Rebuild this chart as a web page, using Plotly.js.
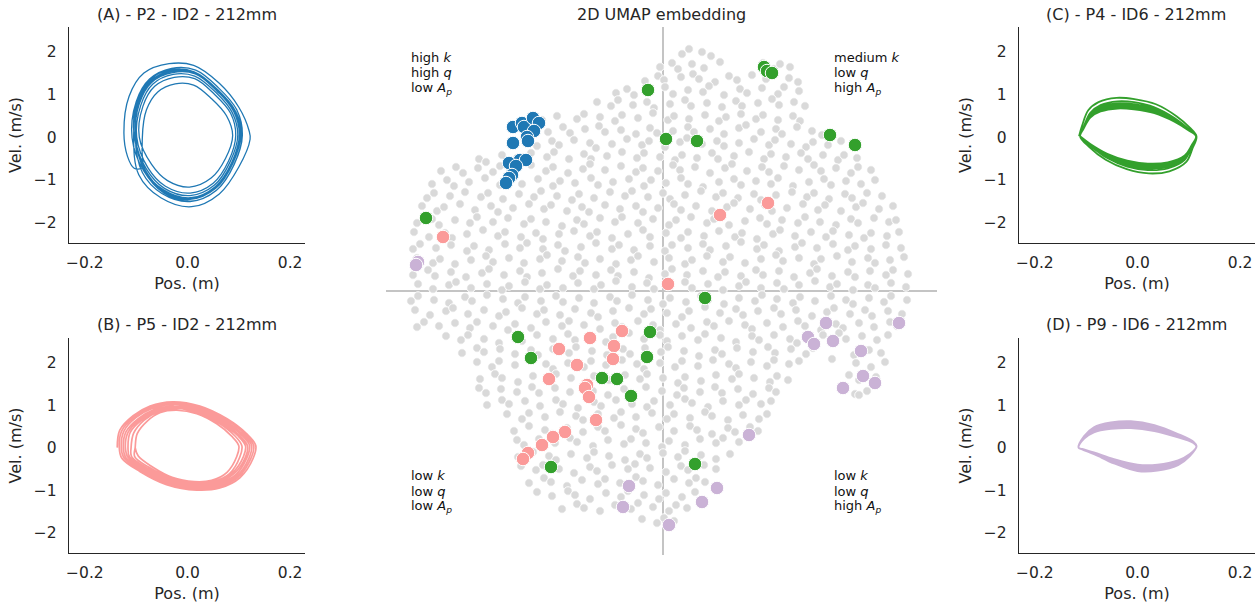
<!DOCTYPE html>
<html><head><meta charset="utf-8">
<script src="https://cdn.plot.ly/plotly-3.0.1.min.js"></script>
<style>html,body{margin:0;padding:0;background:#fff}#chart{width:1258px;height:609px}</style>
</head><body><div id="chart"></div>
<script>
// ---------------- DATA ----------------
const panelTitles = ['(A) - P2 - ID2 - 212mm', '(B) - P5 - ID2 - 212mm', '(C) - P4 - ID6 - 212mm', '(D) - P9 - ID6 - 212mm'];
const centerTitle = '2D UMAP embedding';
const posTicks = [-0.2, 0, 0.2];
const posTickText = ['\u22120.2', '0.0', '0.2'];
const velTicks = [-2, -1, 0, 1, 2];
const velTickText = ['\u22122', '\u22121', '0', '1', '2'];
const quadrantLabels = [
  ['high <i>k</i>', 'high <i>q</i>', 'low <i>A</i><sub><i>p</i></sub>'],
  ['medium <i>k</i>', 'low <i>q</i>', 'high <i>A</i><sub><i>p</i></sub>'],
  ['low <i>k</i>', 'low <i>q</i>', 'low <i>A</i><sub><i>p</i></sub>'],
  ['low <i>k</i>', 'low <i>q</i>', 'high <i>A</i><sub><i>p</i></sub>']
];

// (A) phase portrait trajectory, position (m) and velocity (m/s)
const posA = [-0.089,-0.104,-0.117,
 -0.124,-0.114,-0.085,-0.036,0.012,0.062,0.100,0.120,0.122,0.100,0.062,0.008,-0.052,-0.095,
 -0.105,-0.097,-0.072,-0.030,0.015,0.058,0.093,0.104,0.088,0.055,0.005,-0.048,-0.085,
 -0.108,-0.100,-0.074,-0.031,0.016,0.060,0.096,0.107,0.091,0.057,0.005,-0.050,-0.088,
 -0.102,-0.094,-0.070,-0.029,0.015,0.057,0.090,0.101,0.086,0.054,0.006,-0.046,-0.083,
 -0.088,-0.080,-0.058,-0.024,0.012,0.047,0.076,0.088,0.074,0.046,0.004,-0.039,-0.070,
 -0.094,-0.087,-0.064,-0.026,0.014,0.052,0.084,0.094,0.080,0.050,0.005,-0.043,-0.077,
 -0.099,-0.091,-0.068,-0.028,0.014,0.055,0.087,0.098,0.083,0.052,0.005,-0.045,-0.080,
 -0.104,-0.098,-0.073,-0.032,0.013,0.057,0.094,0.106,0.090,0.056,0.006,-0.047,-0.084,
 -0.101,-0.095,-0.071,-0.030,0.014,0.058,0.091,0.102,0.087,0.053,0.005,-0.047,-0.082,-0.103];
const velA = [-0.74,-0.73,-0.45,
 0.10,0.95,1.50,1.72,1.68,1.26,0.70,0.15,-0.05,-0.70,-1.33,-1.63,-1.42,-0.88,
 0.00,0.80,1.32,1.56,1.52,1.12,0.62,0.05,-0.62,-1.20,-1.46,-1.28,-0.80,
 -0.02,0.83,1.36,1.61,1.57,1.16,0.64,0.05,-0.64,-1.24,-1.51,-1.32,-0.83,
 0.02,0.78,1.28,1.51,1.48,1.09,0.60,0.06,-0.60,-1.16,-1.42,-1.24,-0.77,
 0.00,0.64,1.06,1.25,1.22,0.90,0.50,0.04,-0.50,-0.96,-1.17,-1.02,-0.64,
 0.00,0.72,1.19,1.40,1.37,1.01,0.56,0.04,-0.56,-1.08,-1.31,-1.15,-0.72,
 0.00,0.75,1.24,1.47,1.43,1.05,0.58,0.05,-0.58,-1.13,-1.37,-1.20,-0.75,
 0.03,0.84,1.35,1.58,1.53,1.10,0.60,0.02,-0.66,-1.25,-1.50,-1.30,-0.79,
 0.01,0.79,1.30,1.54,1.50,1.07,0.61,0.04,-0.61,-1.18,-1.44,-1.26,-0.78,-0.02];

// (B)
const posB = [
 -0.137,-0.132,-0.106,-0.073,-0.029,0.024,0.077,0.115,0.133,0.128,0.102,0.063,0.018,-0.041,-0.093,-0.128,
 -0.133,-0.128,-0.103,-0.071,-0.028,0.023,0.075,0.112,0.129,0.124,0.099,0.061,0.017,-0.040,-0.090,-0.124,
 -0.129,-0.124,-0.100,-0.069,-0.027,0.023,0.072,0.108,0.125,0.120,0.096,0.059,0.017,-0.039,-0.087,-0.120,
 -0.125,-0.120,-0.096,-0.066,-0.026,0.022,0.070,0.105,0.121,0.116,0.093,0.057,0.016,-0.037,-0.085,-0.116,
 -0.121,-0.116,-0.093,-0.064,-0.026,0.021,0.068,0.101,0.117,0.113,0.090,0.055,0.016,-0.036,-0.082,-0.113,
 -0.116,-0.112,-0.090,-0.062,-0.025,0.020,0.065,0.098,0.113,0.109,0.087,0.054,0.015,-0.035,-0.079,-0.109,
 -0.110,-0.105,-0.085,-0.058,-0.023,0.019,0.061,0.092,0.106,0.102,0.082,0.050,0.014,-0.032,-0.074,-0.103,
 -0.102,-0.098,-0.079,-0.054,-0.021,0.018,0.057,0.086,0.100,0.096,0.077,0.047,0.013,-0.030,-0.069,-0.096,-0.102];
const velB = [
 0.00,0.41,0.75,0.98,1.08,0.98,0.68,0.33,0.05,-0.25,-0.71,-0.95,-1.00,-0.87,-0.56,-0.25,
 0.00,0.40,0.73,0.95,1.05,0.95,0.66,0.32,0.05,-0.24,-0.69,-0.92,-0.97,-0.84,-0.54,-0.24,
 0.00,0.39,0.71,0.92,1.02,0.92,0.64,0.31,0.05,-0.24,-0.67,-0.89,-0.94,-0.82,-0.53,-0.24,
 0.00,0.37,0.68,0.89,0.98,0.89,0.62,0.30,0.05,-0.23,-0.65,-0.86,-0.91,-0.79,-0.51,-0.23,
 0.00,0.36,0.66,0.86,0.95,0.86,0.60,0.29,0.04,-0.22,-0.62,-0.84,-0.88,-0.77,-0.49,-0.22,
 0.00,0.35,0.64,0.83,0.92,0.83,0.58,0.28,0.04,-0.21,-0.60,-0.81,-0.85,-0.74,-0.48,-0.21,
 0.00,0.34,0.64,0.84,0.92,0.84,0.58,0.28,0.04,-0.22,-0.61,-0.80,-0.84,-0.73,-0.47,-0.21,
 0.00,0.33,0.62,0.82,0.88,0.80,0.56,0.27,0.04,-0.21,-0.58,-0.77,-0.80,-0.70,-0.45,-0.20,0.00];

// (C)
const posC = [
 -0.114,-0.108,-0.096,-0.076,-0.041,-0.006,0.036,0.076,0.102,0.115,0.107,0.095,0.062,0.022,-0.021,-0.062,-0.095,
 -0.112,-0.105,-0.092,-0.072,-0.039,-0.007,0.033,0.072,0.099,0.114,0.105,0.092,0.059,0.020,-0.020,-0.059,-0.092,
 -0.112,-0.105,-0.092,-0.072,-0.039,-0.007,0.033,0.072,0.099,0.114,0.105,0.092,0.059,0.020,-0.020,-0.059,-0.092,
 -0.112,-0.105,-0.092,-0.072,-0.039,-0.007,0.033,0.072,0.099,0.114,0.105,0.092,0.059,0.020,-0.020,-0.059,-0.092,
 -0.112,-0.105,-0.092,-0.072,-0.039,-0.007,0.033,0.072,0.099,0.114,0.105,0.092,0.059,0.020,-0.020,-0.059,-0.092,
 -0.112,-0.105,-0.092,-0.072,-0.039,-0.007,0.033,0.072,0.099,0.114,0.105,0.092,0.059,0.020,-0.020,-0.059,-0.092,
 -0.112,-0.105,-0.092,-0.072,-0.039,-0.007,0.033,0.072,0.099,0.114,0.105,0.092,0.059,0.020,-0.020,-0.059,-0.092,-0.112];
const velC = [
 0.02,0.27,0.63,0.82,0.92,0.89,0.77,0.49,0.22,0.02,-0.27,-0.58,-0.80,-0.85,-0.75,-0.53,-0.22,
 0.02,0.24,0.57,0.75,0.84,0.82,0.70,0.45,0.20,0.02,-0.24,-0.53,-0.73,-0.77,-0.69,-0.49,-0.20,
 0.02,0.23,0.54,0.71,0.79,0.77,0.66,0.42,0.19,0.02,-0.23,-0.50,-0.69,-0.73,-0.65,-0.46,-0.19,
 0.02,0.22,0.52,0.68,0.76,0.74,0.63,0.40,0.18,0.02,-0.22,-0.48,-0.66,-0.70,-0.62,-0.44,-0.18,
 0.02,0.21,0.50,0.65,0.73,0.71,0.61,0.39,0.17,0.02,-0.21,-0.46,-0.63,-0.67,-0.60,-0.42,-0.17,
 0.02,0.20,0.48,0.63,0.70,0.69,0.59,0.37,0.17,0.02,-0.20,-0.45,-0.61,-0.65,-0.58,-0.41,-0.17,
 0.02,0.20,0.46,0.60,0.67,0.65,0.56,0.36,0.16,0.02,-0.20,-0.43,-0.59,-0.62,-0.55,-0.39,-0.16,0.02];

// (D)
const posD = [
 -0.115,-0.104,-0.085,-0.052,-0.013,0.033,0.079,0.109,0.115,0.102,0.079,0.039,0.000,-0.046,-0.085,-0.108,
 -0.115,-0.104,-0.085,-0.052,-0.013,0.033,0.079,0.109,0.115,0.102,0.079,0.039,0.000,-0.046,-0.085,-0.108,
 -0.115,-0.104,-0.085,-0.052,-0.013,0.033,0.079,0.109,0.115,0.102,0.079,0.039,0.000,-0.046,-0.085,-0.108,
 -0.115,-0.104,-0.085,-0.052,-0.013,0.033,0.079,0.109,0.115,0.102,0.079,0.039,0.000,-0.046,-0.085,-0.108,
 -0.115,-0.104,-0.085,-0.052,-0.013,0.033,0.079,0.109,0.115,0.102,0.079,0.039,0.000,-0.046,-0.085,-0.108,
 -0.115,-0.104,-0.085,-0.052,-0.013,0.033,0.079,0.109,0.115,0.102,0.079,0.039,0.000,-0.046,-0.085,-0.108,-0.115];
const velD = [
 0.00,0.27,0.48,0.59,0.62,0.53,0.32,0.14,0.03,-0.20,-0.41,-0.54,-0.55,-0.37,-0.15,-0.04,
 0.00,0.26,0.46,0.57,0.59,0.50,0.30,0.14,0.03,-0.19,-0.39,-0.51,-0.51,-0.35,-0.15,-0.04,
 0.00,0.25,0.44,0.54,0.56,0.48,0.29,0.13,0.03,-0.18,-0.37,-0.49,-0.49,-0.33,-0.14,-0.04,
 0.00,0.24,0.41,0.51,0.53,0.45,0.27,0.12,0.03,-0.17,-0.35,-0.46,-0.46,-0.31,-0.13,-0.04,
 0.00,0.22,0.39,0.48,0.49,0.42,0.26,0.11,0.03,-0.16,-0.33,-0.43,-0.43,-0.29,-0.12,-0.04,
 0.00,0.21,0.36,0.44,0.46,0.39,0.24,0.11,0.02,-0.15,-0.30,-0.40,-0.40,-0.27,-0.11,-0.03,0.00];

// UMAP embedding: all samples (grey), one line per band of the cloud
const greyU = [
 1.9,2.6,3.9,4.8,
 -0.3,0.9,1.5,2.9,4.1,5.7,10.0,11.1,11.7,12.7,
 -1.8,-0.5,0.1,1.8,3.0,3.6,5.2,6.6,7.4,8.9,10.3,11.0,12.6,13.5,
 -4.7,-3.6,-2.9,-1.3,0.2,1.0,2.5,4.0,4.6,6.1,7.7,8.4,9.9,11.5,12.1,13.6,
 -6.6,-5.2,-4.5,-3.0,-1.6,-0.9,0.7,2.2,2.8,4.4,5.9,7.3,7.9,9.5,10.9,11.6,13.1,14.2,
 -12.1,-10.6,-8.6,-7.9,-6.3,-4.8,-4.1,-2.5,-1.0,0.5,1.1,2.6,4.2,5.6,6.3,7.8,9.3,10.0,11.5,13.0,13.7,
 -11.5,-10.0,-9.3,-7.8,-6.4,-5.8,-4.2,-2.7,-1.3,-0.6,1.0,2.5,3.1,4.7,6.1,7.6,8.3,9.8,11.3,11.9,13.4,14.9,15.9,
 -12.6,-11.1,-10.4,-8.9,-7.3,-6.7,-5.1,-3.6,-2.1,-1.4,0.2,1.7,2.4,3.9,5.4,6.1,7.6,9.1,10.6,11.2,12.8,14.3,15.0,16.5,17.8,
 -18.4,-17.7,-16.1,-14.6,-13.2,-11.6,-10.9,-9.4,-7.9,-7.2,-5.6,-4.1,-2.6,-1.9,-0.3,1.2,1.9,3.4,4.9,5.5,7.1,8.6,10.1,10.8,12.3,13.8,14.5,16.0,17.5,18.1,19.4,
 -22.2,-20.7,-20.0,-18.5,-17.0,-16.3,-14.8,-13.2,-11.7,-11.0,-9.5,-8.0,-7.3,-5.8,-4.2,-2.7,-2.0,-0.5,1.0,1.7,3.2,4.7,6.2,6.9,8.4,9.9,10.6,12.1,13.6,15.1,15.8,17.3,18.8,19.5,20.8,
 -23.1,-21.6,-20.9,-19.4,-17.8,-16.3,-15.6,-14.1,-12.5,-11.0,-10.3,-8.8,-7.2,-6.5,-5.0,-3.4,-1.9,-1.2,0.3,1.8,2.5,4.0,5.6,7.1,7.8,9.3,10.8,11.5,13.0,14.6,16.1,16.8,18.3,19.8,21.2,
 -23.6,-22.9,-21.3,-19.8,-18.2,-17.5,-16.0,-14.4,-12.9,-12.2,-10.6,-9.1,-8.4,-6.9,-5.3,-3.8,-3.1,-1.5,0.0,0.7,2.2,3.8,5.3,6.0,7.5,9.1,9.8,11.3,12.9,14.4,15.1,16.6,18.2,18.9,20.4,21.9,
 -24.1,-22.6,-21.9,-20.3,-18.8,-17.2,-16.5,-15.0,-13.4,-11.9,-11.2,-9.6,-8.1,-7.4,-5.8,-4.3,-2.7,-2.0,-0.5,1.1,1.8,3.3,4.9,6.4,7.1,8.7,10.2,10.9,12.4,14.0,15.5,16.2,17.8,19.3,20.0,21.6,23.0,
 -24.6,-23.1,-22.4,-20.8,-19.3,-18.6,-17.0,-15.5,-13.9,-13.2,-11.7,-10.1,-8.6,-7.9,-6.3,-4.8,-4.1,-2.5,-1.0,0.6,1.3,2.8,4.4,5.1,6.6,8.2,9.7,10.4,11.9,13.5,14.2,15.7,17.3,18.8,19.5,21.1,22.6,23.3,
 -24.9,-23.4,-21.8,-21.1,-19.6,-18.0,-16.5,-15.8,-14.2,-12.7,-12.0,-10.4,-8.9,-7.3,-6.6,-5.1,-3.5,-2.0,-1.3,0.3,1.8,2.5,4.1,5.6,7.2,7.9,9.4,11.0,11.7,13.2,14.8,16.3,17.0,18.6,20.1,20.8,22.4,23.6,
 -25.0,-24.3,-22.7,-21.2,-19.6,-18.9,-17.4,-15.8,-14.3,-13.6,-12.0,-10.5,-9.8,-8.2,-6.7,-5.1,-4.4,-2.9,-1.3,0.2,0.9,2.5,4.0,4.7,6.3,7.8,9.4,10.1,11.6,13.2,13.9,15.4,17.0,18.5,19.2,20.8,22.3,23.8,
 -24.6,-23.0,-22.3,-20.8,-19.2,-17.7,-17.0,-15.4,-13.9,-12.3,-11.6,-10.1,-8.5,-7.8,-6.3,-4.7,-3.2,-2.5,-0.9,0.6,2.2,2.9,4.4,6.0,6.7,8.2,9.8,11.3,12.0,13.6,15.1,15.8,17.4,18.9,20.5,21.2,22.7,24.1,
 -25.0,-23.5,-22.8,-21.2,-19.7,-18.1,-17.4,-15.9,-14.3,-13.6,-12.1,-10.5,-9.0,-8.3,-6.7,-5.2,-4.5,-2.9,-1.4,0.2,0.9,2.4,4.0,5.5,6.2,7.8,9.3,10.0,11.6,13.1,14.7,15.4,16.9,18.5,19.2,20.7,22.3,23.0,24.5,
 -24.5,-23.0,-21.4,-20.7,-19.2,-17.6,-16.1,-15.4,-13.8,-12.3,-11.6,-10.0,-8.5,-6.9,-6.2,-4.7,-3.1,-1.6,-0.9,0.7,2.2,2.9,4.5,6.0,7.6,8.3,9.8,11.4,12.1,13.6,15.2,16.7,17.4,19.0,20.5,21.2,22.8,24.3,
 -25.2,-24.5,-22.9,-21.4,-19.8,-19.1,-17.6,-16.0,-14.5,-13.8,-12.2,-10.7,-10.0,-8.4,-6.9,-5.3,-4.6,-3.1,-1.5,0.0,0.7,2.3,3.8,4.5,6.1,7.6,9.2,9.9,11.4,13.0,13.7,15.2,16.8,18.3,19.0,20.6,22.1,22.8,24.4,
 -24.8,-23.3,-21.7,-21.0,-19.5,-17.9,-16.4,-15.7,-14.1,-12.6,-11.9,-10.3,-8.8,-7.2,-6.5,-5.0,-3.4,-1.9,-1.2,0.4,1.9,2.6,4.2,5.7,7.3,8.0,9.5,11.1,11.8,13.3,14.9,16.4,17.1,18.7,20.2,20.9,22.5,23.9,
 -24.6,-23.9,-22.4,-20.8,-19.3,-18.6,-17.0,-15.5,-14.8,-13.2,-11.7,-10.1,-9.4,-7.9,-6.3,-4.8,-4.1,-2.5,-1.0,-0.3,1.3,2.8,4.4,5.1,6.6,8.2,8.9,10.4,12.0,13.5,14.2,15.8,17.3,18.0,19.6,21.1,22.7,23.4,
 -21.7,-20.2,-19.5,-17.9,-16.4,-14.8,-14.1,-12.6,-11.0,-9.5,-8.8,-7.2,-5.7,-5.0,-3.4,-1.9,-0.3,0.4,1.9,3.5,4.2,5.8,7.3,8.9,9.6,11.1,12.7,13.4,16.0,17.6,18.3,19.9,21.4,22.5,
 -20.1,-18.6,-17.9,-16.3,-14.8,-13.2,-12.5,-11.0,-9.4,-8.7,-7.1,-5.6,-4.0,-3.3,-1.8,-0.2,0.5,2.1,3.6,5.2,5.9,7.4,9.0,10.5,11.2,12.8,14.3,15.0,19.1,20.6,21.8,
 -18.6,-17.1,-16.4,-14.8,-13.3,-11.7,-11.0,-9.5,-7.9,-7.2,-5.7,-4.1,-2.6,-1.9,-0.3,1.2,1.9,3.5,5.0,6.6,7.3,8.8,10.4,11.1,12.6,13.6,16.9,19.3,20.8,22.2,
 -18.3,-16.8,-16.1,-14.5,-13.0,-11.4,-10.7,-9.2,-7.6,-6.9,-5.4,-3.8,-2.3,-1.6,0.0,1.5,2.2,3.8,5.3,6.9,7.6,9.1,10.7,11.4,12.5,18.6,19.6,21.3,
 -18.4,-17.7,-16.2,-14.6,-13.1,-12.4,-10.8,-9.3,-7.7,-7.0,-5.5,-3.9,-3.2,-1.7,-0.1,1.4,2.1,3.7,5.2,5.9,7.5,9.0,10.6,11.3,19.2,20.4,
 -17.6,-16.1,-15.4,-13.8,-12.3,-10.7,-10.0,-8.5,-6.9,-6.2,-4.7,-3.1,-1.6,-0.9,0.7,2.2,2.9,4.5,6.0,7.6,8.3,9.8,10.8,19.6,
 -15.6,-14.1,-13.4,-11.8,-10.3,-8.7,-8.0,-6.5,-4.9,-4.2,-2.7,-1.1,0.4,1.1,2.7,4.2,4.9,6.5,8.0,9.6,10.4,
 -14.9,-13.4,-11.8,-11.1,-9.6,-8.0,-6.5,-5.8,-4.2,-2.7,-2.0,-0.4,1.1,2.7,3.4,4.9,6.5,7.2,8.7,9.5,
 -14.6,-13.9,-12.4,-10.8,-9.3,-8.6,-7.0,-5.5,-3.9,-3.2,-1.7,-0.1,0.6,2.2,3.7,5.3,6.0,7.6,
 -14.5,-13.0,-11.4,-10.7,-9.2,-7.6,-6.9,-5.4,-3.8,-2.3,-1.6,0.0,1.5,2.2,3.8,5.3,6.7,
 -14.2,-12.7,-12.0,-10.4,-8.9,-7.3,-6.6,-5.1,-3.5,-2.8,-1.3,0.3,1.8,2.5,4.1,5.3,
 -13.4,-11.9,-11.2,-9.6,-8.1,-6.5,-5.8,-4.3,-2.7,-2.0,-0.5,1.1,2.6,3.3,4.2,
 -12.6,-11.1,-9.5,-8.8,-7.3,-5.7,-4.2,-3.5,-1.9,-0.4,0.3,1.9,3.2,
 -10.1,-8.6,-7.9,-6.3,-4.8,-3.2,-2.5,-1.0,0.6,1.3,2.4,
 -2.1,-0.6,0.1,1.1];
const greyV = [
 23.7,24.2,23.9,23.5,
 22.4,22.8,22.2,22.7,22.3,22.9,22.8,22.2,22.7,22.4,
 21.0,21.5,21.1,21.4,21.7,21.2,20.9,21.5,21.1,21.6,21.2,21.7,21.3,20.9,
 19.8,20.2,19.6,20.0,20.4,19.7,20.1,19.9,20.5,19.6,20.2,19.8,20.3,19.7,20.4,20.0,
 18.9,18.5,19.1,18.6,18.9,18.3,18.7,19.1,18.5,18.8,18.4,19.0,18.5,18.8,19.2,18.6,18.9,18.5,
 17.1,17.5,17.2,17.7,17.4,17.0,17.6,17.3,17.8,17.1,17.5,17.2,17.6,17.0,17.4,17.7,17.2,17.6,17.1,17.5,17.0,
 15.9,16.4,15.8,16.2,16.5,15.9,16.1,15.7,16.3,15.8,16.0,16.4,15.9,16.2,15.7,16.3,16.6,15.9,16.2,15.7,16.4,16.0,15.6,
 14.5,15.0,14.6,15.1,14.8,14.3,14.7,15.2,14.6,15.0,14.4,14.9,15.3,14.7,15.0,14.5,14.8,15.2,14.6,15.1,14.7,14.4,14.9,14.6,15.0,
 13.2,12.9,13.6,13.3,13.8,13.4,13.9,13.2,13.7,13.2,13.5,13.9,13.3,13.8,13.4,13.1,13.6,13.3,13.8,13.2,13.5,13.9,13.2,13.7,13.4,13.8,13.2,13.6,13.1,13.6,13.3,
 12.0,12.4,11.8,12.3,11.9,12.5,12.1,12.6,12.0,12.4,11.8,12.2,12.7,12.1,12.5,11.9,12.3,12.0,12.6,12.1,12.4,11.8,12.3,12.7,12.0,12.4,11.9,12.5,12.1,12.6,12.0,12.3,11.8,12.4,12.1,
 10.7,11.1,10.5,10.9,11.3,10.6,11.0,10.7,11.2,10.5,11.0,10.8,11.3,10.6,10.9,11.2,10.5,11.1,10.8,11.3,10.7,10.4,10.9,11.2,10.6,11.0,10.7,11.3,10.5,10.9,11.2,10.6,11.0,10.7,11.1,
 9.3,9.8,9.5,9.9,9.4,9.8,9.2,9.7,9.4,10.0,9.5,9.1,9.7,9.3,9.9,9.5,10.0,9.4,9.8,9.2,9.6,10.0,9.4,9.8,9.3,9.7,9.1,9.6,9.9,9.4,9.8,9.2,9.7,9.3,9.8,9.5,
 8.5,8.0,8.4,8.7,8.1,8.5,7.9,8.3,8.7,8.2,8.6,8.0,8.4,7.9,8.6,8.2,8.5,7.9,8.3,8.7,8.1,8.5,8.0,8.4,8.8,8.2,8.6,8.0,8.3,8.7,8.1,8.6,8.0,8.4,8.8,8.2,8.5,
 6.8,7.2,6.6,7.1,6.8,7.4,6.9,7.3,6.7,7.2,6.9,6.5,7.1,6.7,7.3,6.9,7.4,6.8,7.2,6.6,7.1,7.4,6.8,7.2,6.6,7.0,7.3,6.7,7.1,6.8,7.4,6.9,6.6,7.2,6.8,7.3,6.9,7.1,
 5.9,5.4,5.8,5.3,5.7,6.1,5.5,5.9,5.4,5.8,5.2,5.7,6.0,5.5,5.9,5.3,5.7,6.1,5.4,5.8,5.3,5.9,5.5,6.0,5.4,5.8,5.2,5.7,6.1,5.5,5.9,5.4,6.0,5.6,5.3,5.8,5.5,5.9,
 4.2,4.7,4.3,4.6,4.0,4.5,4.1,4.7,4.3,4.8,4.2,4.6,4.0,4.4,4.8,4.2,4.6,4.1,4.5,4.0,4.6,4.3,4.7,4.1,4.5,4.9,4.2,4.6,4.0,4.4,4.8,4.3,4.7,4.1,4.5,4.2,4.6,4.3,
 3.3,2.8,3.2,2.7,3.1,3.5,2.9,3.3,2.8,3.2,3.6,3.0,3.4,2.8,3.2,2.7,3.1,3.5,2.9,3.3,2.7,3.1,3.5,2.9,3.4,2.8,3.2,3.6,3.0,3.3,2.7,3.2,3.5,2.9,3.3,2.8,3.1,3.4,
 1.6,2.1,1.5,1.9,1.4,1.8,2.2,1.6,2.0,1.4,1.8,2.2,1.5,2.0,1.6,2.1,1.5,1.9,1.3,1.7,2.2,1.6,2.0,1.4,1.9,1.5,2.1,1.6,2.0,1.4,1.8,2.2,1.5,1.9,1.4,2.0,1.6,2.1,1.7,
 0.7,0.2,0.6,0.9,0.3,0.7,0.1,0.5,0.9,0.2,0.6,0.3,0.8,0.2,0.6,1.0,0.4,0.8,0.2,0.5,0.9,0.3,0.7,0.1,0.5,0.9,0.3,0.8,0.2,0.6,1.0,0.4,0.7,0.1,0.6,0.3,0.8,0.4,
 -1.0,-0.5,-0.9,-1.2,-0.6,-1.0,-0.4,-0.8,-1.2,-0.6,-1.0,-0.5,-1.1,-0.7,-1.2,-0.6,-1.0,-0.4,-0.9,-1.3,-0.7,-1.1,-0.5,-0.9,-1.3,-0.7,-1.0,-0.4,-0.8,-1.2,-0.6,-1.0,-0.5,-0.9,-1.3,-0.7,-1.1,-0.5,-0.9,
 -1.9,-2.4,-2.0,-1.7,-2.3,-1.9,-2.5,-2.1,-1.7,-2.3,-1.9,-2.4,-1.8,-2.2,-2.6,-2.0,-1.7,-2.3,-1.8,-2.2,-2.6,-2.0,-1.6,-2.2,-1.8,-2.4,-2.0,-1.7,-2.3,-1.9,-2.5,-2.1,-1.7,-2.3,-1.9,-2.5,-2.0,-2.3,
 -3.6,-3.1,-3.5,-3.2,-3.7,-3.1,-3.5,-3.9,-3.3,-3.7,-3.1,-3.5,-3.0,-3.4,-3.8,-3.2,-3.6,-3.0,-3.4,-3.9,-3.3,-3.7,-3.1,-3.5,-3.0,-3.4,-3.8,-3.2,-3.6,-3.0,-3.5,-3.9,-3.3,-3.7,-3.2,-3.6,-3.1,-3.5,
 -4.5,-4.9,-4.4,-4.8,-5.2,-4.6,-5.0,-4.4,-4.8,-4.3,-4.9,-4.5,-5.1,-4.6,-4.2,-4.8,-4.4,-5.0,-4.5,-4.9,-4.3,-4.7,-5.1,-4.5,-4.9,-4.4,-4.8,-5.2,-4.4,-4.2,-4.8,-4.5,-4.9,-4.4,
 -6.2,-5.7,-6.1,-5.8,-6.3,-5.9,-6.4,-5.8,-6.2,-5.6,-6.0,-6.4,-5.8,-6.3,-5.7,-6.1,-5.6,-6.0,-6.5,-5.9,-6.3,-5.7,-6.1,-5.6,-6.2,-5.8,-6.3,-5.7,-6.4,-5.9,-6.2,
 -7.1,-7.6,-7.0,-7.4,-6.9,-7.3,-7.8,-7.2,-7.6,-7.0,-7.4,-6.9,-7.3,-7.8,-7.2,-7.6,-7.0,-7.5,-6.9,-7.3,-7.7,-7.1,-7.5,-6.9,-7.3,-7.0,-6.8,-7.2,-7.6,-7.1,
 -8.8,-8.3,-8.7,-9.1,-8.5,-8.9,-8.3,-8.7,-9.1,-8.5,-8.9,-8.4,-8.8,-8.3,-8.7,-9.2,-8.6,-9.0,-8.4,-8.8,-8.3,-8.7,-9.1,-8.5,-8.9,-8.4,-8.9,-8.6,
 -9.7,-10.2,-9.8,-10.1,-9.6,-10.2,-9.7,-10.1,-9.5,-10.0,-10.4,-9.8,-10.2,-9.6,-10.0,-10.4,-9.7,-10.1,-9.6,-10.2,-9.8,-10.3,-9.7,-10.1,-10.3,-10.0,
 -11.4,-10.9,-11.3,-11.0,-11.5,-10.9,-11.3,-11.7,-11.1,-11.5,-10.9,-11.3,-11.6,-11.0,-11.4,-10.8,-11.2,-11.6,-11.0,-11.4,-10.9,-11.3,-11.0,-10.4,
 -12.3,-12.8,-12.2,-12.6,-12.1,-12.5,-12.9,-12.3,-12.7,-12.1,-12.6,-12.2,-12.8,-12.3,-12.7,-12.1,-12.5,-12.9,-12.4,-12.8,-12.3,
 -14.0,-13.5,-13.9,-14.3,-13.7,-14.1,-13.6,-14.0,-13.4,-13.8,-14.2,-13.6,-14.0,-13.5,-13.9,-14.3,-13.7,-14.1,-13.6,-14.0,
 -14.9,-15.4,-14.8,-15.2,-14.7,-15.1,-15.5,-14.9,-15.3,-14.8,-15.2,-15.6,-15.0,-15.4,-14.8,-15.2,-14.7,-15.1,
 -16.6,-16.1,-16.5,-16.9,-16.3,-16.7,-16.1,-16.5,-16.9,-16.3,-16.7,-16.2,-16.6,-16.0,-16.4,-16.8,-16.3,
 -17.5,-17.9,-17.4,-17.8,-18.2,-17.6,-18.0,-17.4,-17.8,-17.3,-17.7,-18.1,-17.5,-17.9,-17.4,-17.8,
 -19.2,-18.7,-19.1,-19.5,-18.9,-19.3,-18.8,-19.2,-18.6,-19.0,-19.4,-18.8,-19.2,-18.7,-19.1,
 -20.1,-20.5,-20.0,-20.4,-20.8,-20.2,-20.6,-20.0,-20.4,-20.8,-20.2,-20.6,-20.1,
 -21.8,-21.3,-21.7,-22.0,-21.4,-21.8,-21.2,-21.6,-22.0,-21.4,-21.7,
 -22.8,-23.2,-22.7,-23.0];

// highlighted samples
const blueU = [-15.0,-14.1,-13.9,-13.0,-12.4,-12.9,-13.6,-15.0,-13.5,-14.3,-13.7,-15.4,-14.7,-15.1,-15.4,-15.7];
const blueV = [16.4,16.8,16.4,17.3,16.8,16.0,15.4,14.8,15.0,13.1,13.1,12.8,12.5,11.6,11.3,10.8];
const pinkU = [-22.0,10.5,5.7,0.5,-7.3,-4.1,-10.4,-4.9,-5.0,-8.6,-11.4,-7.6,-7.8,-7.4,-6.7,-9.8,-11.0,-12.1,-13.5,-14.0];
const pinkV = [5.4,8.8,7.6,0.7,-4.7,-4.0,-5.8,-5.5,-6.8,-7.4,-8.8,-9.4,-9.7,-10.6,-12.9,-14.1,-14.6,-15.4,-16.2,-16.8];
const greenU = [-1.5,10.1,10.4,10.9,0.3,3.4,16.7,19.2,-23.7,-14.5,-13.2,-6.1,-4.6,-3.2,-1.3,-1.6,-11.2,4.2,3.2];
const greenV = [20.1,22.4,22.0,21.8,15.2,15.0,15.6,14.6,7.3,-4.6,-6.7,-8.7,-8.8,-10.5,-4.1,-6.6,-17.6,-0.7,-17.3];
const purpleU = [-24.5,-24.7,-3.4,-4.0,0.6,16.3,23.6,14.5,15.1,17.0,19.8,20.0,21.2,18.0,8.6,5.4,3.9];
const purpleV = [2.9,2.6,-19.5,-21.6,-23.4,-3.2,-3.2,-4.6,-5.3,-5.0,-6.0,-8.5,-9.2,-9.7,-14.4,-19.7,-21.1];

// ---------------- STYLE ----------------
const FONT = 'DejaVu Sans, Verdana, sans-serif';
const INK = '#262626';
const BLUE = '#1f78b4', PINK = '#fb9a99', GREEN = '#33a02c', PURPLE = '#cab2d6';

function lineTrace(x, y, ax, color, w) {
  return {x: x, y: y, xaxis: 'x' + ax, yaxis: 'y' + ax, type: 'scatter', mode: 'lines',
    line: {color: color, width: w, shape: 'spline', smoothing: 1}, hoverinfo: 'skip', showlegend: false};
}
function dotTrace(x, y, color, size, lw) {
  return {x: x, y: y, xaxis: 'x5', yaxis: 'y5', type: 'scatter', mode: 'markers',
    marker: {color: color, size: size, line: {color: '#ffffff', width: lw}}, hoverinfo: 'skip', showlegend: false};
}

const traces = [
  lineTrace(posA, velA, '', BLUE, 1.3),
  lineTrace(posB, velB, '2', PINK, 1.7),
  lineTrace(posC, velC, '3', GREEN, 1.8),
  lineTrace(posD, velD, '4', PURPLE, 1.9),
  dotTrace(greyU, greyV, '#d9d9d9', 8.5, 0.9),
  dotTrace(blueU, blueV, BLUE, 13.5, 1),
  dotTrace(pinkU, pinkV, PINK, 13.5, 1),
  dotTrace(greenU, greenV, GREEN, 13.5, 1),
  dotTrace(purpleU, purpleV, PURPLE, 13.5, 1)
];

function xPhase(domain, anchor) {
  return {domain: domain, anchor: anchor, range: [-0.231, 0.229], showline: true, linecolor: INK, linewidth: 1.25,
    showgrid: false, zeroline: false, ticks: 'outside', ticklen: 5, tickcolor: 'rgba(0,0,0,0)',
    tickvals: posTicks, ticktext: posTickText, tickfont: {family: FONT, size: 15.5, color: INK},
    title: {text: 'Pos. (m)', font: {family: FONT, size: 16, color: INK}, standoff: 7}, fixedrange: true};
}
function yPhase(domain, anchor) {
  return {domain: domain, anchor: anchor, range: [-2.48, 2.58], showline: true, linecolor: INK, linewidth: 1.25,
    showgrid: false, zeroline: false, ticks: 'outside', ticklen: 8, tickcolor: 'rgba(0,0,0,0)',
    tickvals: velTicks, ticktext: velTickText, tickfont: {family: FONT, size: 15.5, color: INK},
    title: {text: 'Vel. (m/s)', font: {family: FONT, size: 16, color: INK}, standoff: 8}, fixedrange: true};
}

const leftX = [69 / 1258, 305 / 1258];
const rightX = [1019 / 1258, 1255 / 1258];
const topY = [1 - 243 / 609, 1 - 27 / 609];
const botY = [1 - 553 / 609, 1 - 338 / 609];

const annotations = [];
const titlePos = [[187 / 1258, 1 - 14.5 / 609], [187 / 1258, 1 - 324.5 / 609], [1136 / 1258, 1 - 14.5 / 609], [1136 / 1258, 1 - 324.5 / 609]];
panelTitles.forEach(function (t, i) {
  annotations.push({text: t, x: titlePos[i][0], y: titlePos[i][1], xref: 'paper', yref: 'paper',
    xanchor: 'center', yanchor: 'middle', showarrow: false, font: {family: FONT, size: 16, color: INK}});
});
annotations.push({text: centerTitle, x: 661.5 / 1258, y: 1 - 14.5 / 609, xref: 'paper', yref: 'paper',
  xanchor: 'center', yanchor: 'middle', showarrow: false, font: {family: FONT, size: 16, color: INK}});

const quadX = [409 / 1258, 831.5 / 1258, 409 / 1258, 831.5 / 1258];
const quadY = [[57.5, 73, 88.5], [57.5, 73, 88.5], [475.7, 491, 506.7], [475.7, 491, 506.7]];
quadrantLabels.forEach(function (lines, q) {
  lines.forEach(function (txt, j) {
    annotations.push({text: txt, x: quadX[q], y: 1 - quadY[q][j] / 609, xref: 'paper', yref: 'paper',
      xanchor: 'left', yanchor: 'middle', showarrow: false, font: {family: FONT, size: 13, color: '#111111'}});
  });
});

const layout = {
  width: 1258, height: 609, margin: {l: 0, r: 0, t: 0, b: 0, pad: 0},
  paper_bgcolor: '#ffffff', plot_bgcolor: 'rgba(0,0,0,0)', showlegend: false,
  font: {family: FONT, color: INK},
  xaxis: xPhase(leftX, 'y'), yaxis: yPhase(topY, 'x'),
  xaxis2: xPhase(leftX, 'y2'), yaxis2: yPhase(botY, 'x2'),
  xaxis3: xPhase(rightX, 'y3'), yaxis3: yPhase(topY, 'x3'),
  xaxis4: xPhase(rightX, 'y4'), yaxis4: yPhase(botY, 'x4'),
  xaxis5: {domain: [386 / 1258, 937 / 1258], anchor: 'y5', range: [-27.7, 27.4], showgrid: false, showline: false,
    showticklabels: false, ticks: '', zeroline: true, zerolinecolor: '#c4c4c4', zerolinewidth: 1.6, fixedrange: true},
  yaxis5: {domain: [1 - 555 / 609, 1 - 27 / 609], anchor: 'x5', range: [-26.4, 26.4], showgrid: false, showline: false,
    showticklabels: false, ticks: '', zeroline: true, zerolinecolor: '#c4c4c4', zerolinewidth: 1.6, fixedrange: true},
  annotations: annotations
};

Plotly.newPlot('chart', traces, layout, {displayModeBar: false, staticPlot: true});
</script>
</body></html>
